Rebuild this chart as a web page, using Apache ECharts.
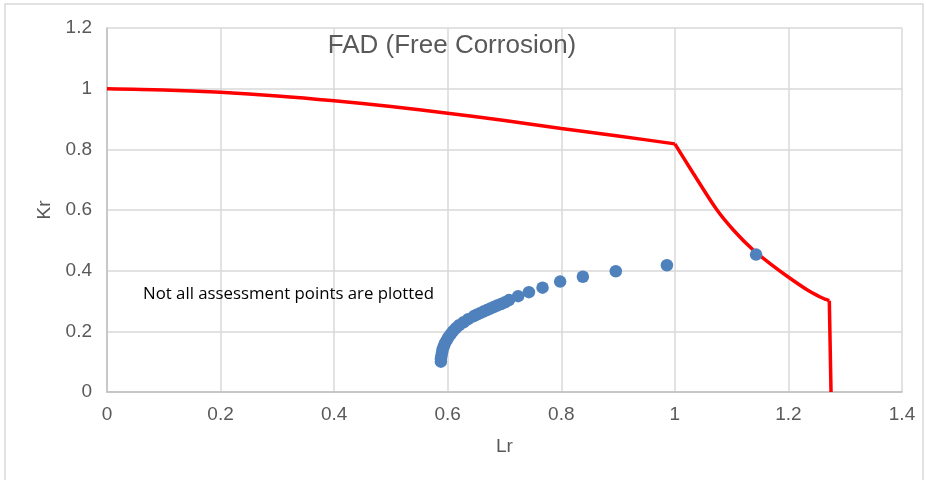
<!DOCTYPE html>
<html>
<head>
<meta charset="utf-8">
<script src="https://cdn.jsdelivr.net/npm/echarts@6/dist/echarts.min.js"></script>
<style>
html,body{margin:0;padding:0;background:#fff;}
#c{width:926px;height:480px;}
</style>
</head>
<body>
<div id="c"></div>
<script>
// FAD curve: elastic-plastic part up to Lr=1, collapse part, cut-off
var fadLr = [0, 0.1, 0.2, 0.3, 0.4, 0.5, 0.6, 0.7, 0.8, 0.9, 1.0];
var fadKr = [1.0, 0.996, 0.988, 0.976, 0.960, 0.941, 0.919, 0.895, 0.869, 0.844, 0.818];
var tailLr = [1.0, 1.032, 1.073, 1.103, 1.138, 1.17, 1.199, 1.232, 1.255, 1.266, 1.272];
var tailKr = [0.818, 0.722, 0.603, 0.534, 0.468, 0.420, 0.380, 0.338, 0.314, 0.305, 0.301];
var cutLr = [1.272, 1.275];
var cutKr = [0.301, 0];
// Assessment points
var ptLr = [0.588, 0.588, 0.589, 0.590, 0.591, 0.593, 0.595, 0.598, 0.601, 0.605, 0.609, 0.614, 0.620, 0.628, 0.636, 0.646, 0.651, 0.657, 0.663, 0.669, 0.675, 0.681, 0.687, 0.694, 0.701, 0.708, 0.724, 0.743, 0.767, 0.798, 0.838, 0.896, 0.986, 1.143];
var ptKr = [0.100, 0.110, 0.120, 0.130, 0.140, 0.150, 0.160, 0.170, 0.180, 0.190, 0.200, 0.210, 0.220, 0.230, 0.240, 0.250, 0.255, 0.260, 0.265, 0.270, 0.275, 0.280, 0.285, 0.290, 0.296, 0.303, 0.316, 0.329, 0.344, 0.364, 0.380, 0.398, 0.418, 0.453];
var xTicks = {min: 0, max: 1.4, interval: 0.2};
var yTicks = {min: 0, max: 1.2, interval: 0.2};
var titleText = 'FAD (Free Corrosion)';
var noteText = 'Not all assessment points are plotted';

function pairs(a, b) { return a.map(function (v, i) { return [v, b[i]]; }); }
var fmt = function (v) { return String(Math.round(v * 10) / 10); };
var FONT = '"Liberation Sans", Arial, sans-serif';
var redLine = {color: '#ff0000', width: 3.5};

var chart = echarts.init(document.getElementById('c'), null, {renderer: 'canvas'});
chart.setOption({
  animation: false,
  backgroundColor: '#fff',
  grid: {left: 107, right: 24, top: 28, bottom: 88, containLabel: false},
  xAxis: {
    type: 'value', min: xTicks.min, max: xTicks.max, interval: xTicks.interval,
    name: 'Lr', nameLocation: 'middle', nameGap: 45,
    nameTextStyle: {color: '#595959', fontSize: 19, fontFamily: FONT},
    axisLine: {show: true, lineStyle: {color: '#bfbfbf', width: 1.5}},
    axisTick: {show: false},
    axisLabel: {color: '#595959', fontSize: 19, fontFamily: FONT, margin: 13, formatter: fmt},
    splitLine: {show: true, lineStyle: {color: '#d9d9d9', width: 1.5}}
  },
  yAxis: {
    type: 'value', min: yTicks.min, max: yTicks.max, interval: yTicks.interval,
    name: 'Kr', nameLocation: 'middle', nameGap: 52, nameRotate: 90,
    nameTextStyle: {color: '#595959', fontSize: 19, fontFamily: FONT},
    axisLine: {show: true, lineStyle: {color: '#bfbfbf', width: 1.5}},
    axisTick: {show: false},
    axisLabel: {color: '#595959', fontSize: 19, fontFamily: FONT, margin: 15, formatter: fmt},
    splitLine: {show: true, lineStyle: {color: '#d9d9d9', width: 1.5}}
  },
  series: [
    {type: 'line', data: pairs(fadLr, fadKr), showSymbol: false, smooth: 0.3, lineStyle: redLine, z: 2},
    {type: 'line', data: pairs(tailLr, tailKr), showSymbol: false, smooth: 0.3, lineStyle: redLine, z: 2},
    {type: 'line', data: pairs(cutLr, cutKr), showSymbol: false, smooth: false, lineStyle: redLine, z: 2},
    {
      type: 'scatter', data: pairs(ptLr, ptKr), symbol: 'circle', symbolSize: 12.5,
      itemStyle: {color: '#4f81bd', opacity: 1}, z: 3
    }
  ],
  graphic: [
    {type: 'rect', shape: {x: 5, y: 4, width: 918, height: 490}, style: {fill: 'none', stroke: '#d9d9d9', lineWidth: 1.5}, z: 0, silent: true},
    {type: 'text', x: 452, y: 33, style: {text: titleText, fill: '#595959', font: '26px ' + FONT, textAlign: 'center', textVerticalAlign: 'top'}, z: 10},
    {type: 'text', x: 143, y: 294, style: {text: noteText, fill: '#000000', font: '16.8px "Open Sans", sans-serif', textAlign: 'left', textVerticalAlign: 'middle'}, z: 10}
  ]
});
</script>
</body>
</html>
